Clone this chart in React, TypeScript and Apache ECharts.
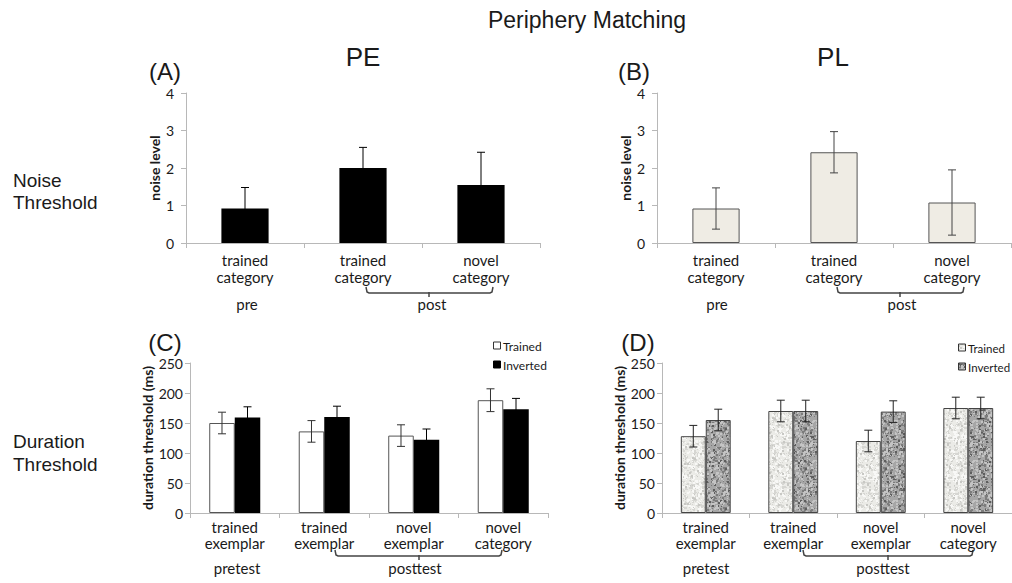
import { useEffect, useRef } from 'react';
import * as echarts from 'echarts';

const noiseCategories = ['trained\ncategory', 'trained\ncategory', 'novel\ncategory'];
const durationCategories = ['trained\nexemplar', 'trained\nexemplar', 'novel\nexemplar', 'novel\ncategory'];
const peValues = [0.92, 2.0, 1.55];
const peErrors = [0.56, 0.55, 0.87];
const plValues = [0.92, 2.42, 1.08];
const plErrors = [0.55, 0.55, 0.87];
const cTrained = [150, 136, 129, 188];
const cTrainedErr = [18, 18, 18, 19];
const cInverted = [159, 160, 122, 173];
const cInvertedErr = [18, 18, 18, 18];
const dTrained = [128, 170, 120, 175];
const dTrainedErr = [18, 18, 18, 18];
const dInverted = [155, 170, 169, 175];
const dInvertedErr = [18, 18, 18, 18];
const legendNames = ['Trained', 'Inverted'];

const LATO = 'Lato, "Open Sans", sans-serif';
const ARIAL = '"Liberation Sans", Arial, sans-serif';
const AXIS_GRAY = '#b8b8b8';
const TEXT = '#1a1a1a';

function speckle(base: string, dots: [string, number][], seed: number) {
  const size = 40;
  const cv = document.createElement('canvas');
  cv.width = size;
  cv.height = size;
  const ctx = cv.getContext('2d')!;
  ctx.fillStyle = base;
  ctx.fillRect(0, 0, size, size);
  let s = seed;
  const rnd = () => {
    s = (s * 16807) % 2147483647;
    return s / 2147483647;
  };
  dots.forEach(([color, n]) => {
    ctx.fillStyle = color;
    for (let k = 0; k < n; k++) {
      const x = Math.floor(rnd() * size);
      const y = Math.floor(rnd() * size);
      const w = 1 + Math.floor(rnd() * 2);
      ctx.fillRect(x, y, w, w);
    }
  });
  return { image: cv, repeat: 'repeat', imageWidth: size, imageHeight: size };
}

function errorBars(values: number[], errors: number[], axis: number, offset: number, color: string) {
  return {
    type: 'custom',
    xAxisIndex: axis,
    yAxisIndex: axis,
    z: 10,
    silent: true,
    data: values.map((v, i) => [i, v, errors[i]]),
    renderItem: (_params: any, api: any) => {
      const i = api.value(0);
      const v = api.value(1);
      const e = api.value(2);
      const band = api.size([1, 0])[0];
      const hi = api.coord([i, v + e]);
      const lo = api.coord([i, v - e]);
      const x = hi[0] + offset * band;
      const c = 4;
      const st = { stroke: color, lineWidth: 1 };
      return {
        type: 'group',
        children: [
          { type: 'line', shape: { x1: x, y1: hi[1], x2: x, y2: lo[1] }, style: st },
          { type: 'line', shape: { x1: x - c, y1: hi[1], x2: x + c, y2: hi[1] }, style: st },
          { type: 'line', shape: { x1: x - c, y1: lo[1], x2: x + c, y2: lo[1] }, style: st },
        ],
      };
    },
  };
}

function catAxis(grid: number, data: string[], lineHeight: number, margin: number) {
  return {
    type: 'category',
    gridIndex: grid,
    data,
    boundaryGap: true,
    axisLine: { show: true, lineStyle: { color: AXIS_GRAY, width: 1 } },
    axisTick: { show: true, alignWithLabel: false, interval: 0, length: 5, lineStyle: { color: AXIS_GRAY } },
    axisLabel: { interval: 0, fontSize: 15, lineHeight, margin, color: TEXT, fontFamily: LATO },
    splitLine: { show: false },
  };
}

function valAxis(grid: number, max: number, interval: number, name: string, nameGap: number, margin: number) {
  return {
    type: 'value',
    gridIndex: grid,
    min: 0,
    max,
    interval,
    name,
    nameLocation: 'middle',
    nameGap,
    nameTextStyle: { fontSize: 14, fontWeight: 'bold', color: TEXT, fontFamily: LATO },
    axisLine: { show: true, lineStyle: { color: AXIS_GRAY, width: 1 } },
    axisTick: { show: true, length: 5, lineStyle: { color: AXIS_GRAY } },
    axisLabel: { fontSize: 14, margin, color: TEXT, fontFamily: LATO },
    splitLine: { show: false },
  };
}

function txt(text: string, x: number, y: number, fontSize: number, fontFamily: string, align = 'center', weight = 'normal') {
  return {
    type: 'text',
    x,
    y,
    silent: true,
    style: { text, fontSize, fontFamily, fill: TEXT, align, verticalAlign: 'middle', fontWeight: weight },
  };
}

function bracket(x1: number, x2: number, xc: number, y: number) {
  const st = { stroke: '#444', lineWidth: 1.5, fill: 'none' };
  return [
    { type: 'polyline', silent: true, shape: { points: [[x1, y - 6], [x1 + 1, y - 1], [x1 + 3, y], [x2 - 3, y], [x2 - 1, y - 1], [x2, y - 6]] }, style: st },
    { type: 'line', silent: true, shape: { x1: xc, y1: y - 1, x2: xc, y2: y + 4 }, style: st },
  ];
}

export default function App() {
  const ref = useRef<HTMLDivElement>(null);

  useEffect(() => {
    document.body.style.margin = '0';
    if (!ref.current) return;
    const chart = echarts.init(ref.current, null, { renderer: 'svg' });

    const lightDots: [string, number][] = [['#d6d6d2', 240], ['#f8f8f6', 200], ['#c8c8c4', 50]];
    const darkDots: [string, number][] = [['#7c7c7c', 220], ['#5e5e5e', 70], ['#c4c4c4', 180]];
    const lightPattern = speckle('#ebebe7', lightDots, 12345);
    const darkPattern = speckle('#a6a6a6', darkDots, 67891);
    const lightPatternL = speckle('#ebebe7', lightDots, 24680);
    const darkPatternL = speckle('#a6a6a6', darkDots, 13579);

    const off = 0.1425;

    const option: any = {
      animation: false,
      backgroundColor: '#ffffff',
      grid: [
        { left: 186, top: 93, width: 354, height: 150 },
        { left: 657, top: 93, width: 354, height: 150 },
        { left: 190, top: 363, width: 358, height: 150 },
        { left: 662, top: 363, width: 352, height: 150 },
      ],
      xAxis: [
        catAxis(0, noiseCategories, 17, 8),
        catAxis(1, noiseCategories, 17, 8),
        catAxis(2, durationCategories, 16, 6),
        catAxis(3, durationCategories, 16, 6),
      ],
      yAxis: [
        valAxis(0, 4, 1, 'noise level', 23, 12),
        valAxis(1, 4, 1, 'noise level', 23, 12),
        valAxis(2, 250, 50, 'duration threshold (ms)', 34, 7),
        valAxis(3, 250, 50, 'duration threshold (ms)', 36, 7),
      ],
      series: [
        { type: 'bar', name: 'PE', xAxisIndex: 0, yAxisIndex: 0, data: peValues, barWidth: '40%', itemStyle: { color: '#000' } },
        errorBars(peValues, peErrors, 0, 0, '#000'),
        { type: 'bar', name: 'PL', xAxisIndex: 1, yAxisIndex: 1, data: plValues, barWidth: '40%', itemStyle: { color: '#efece4', borderColor: '#555', borderWidth: 1 } },
        errorBars(plValues, plErrors, 1, 0, '#444'),
        { type: 'bar', name: legendNames[0], xAxisIndex: 2, yAxisIndex: 2, data: cTrained, barGap: '0%', barCategoryGap: '43%', itemStyle: { color: '#fff', borderColor: '#555', borderWidth: 1 } },
        { type: 'bar', name: legendNames[1], xAxisIndex: 2, yAxisIndex: 2, data: cInverted, barGap: '0%', barCategoryGap: '43%', itemStyle: { color: '#000' } },
        errorBars(cTrained, cTrainedErr, 2, -off, '#333'),
        errorBars(cInverted, cInvertedErr, 2, off, '#000'),
        { type: 'bar', name: legendNames[0] + ' ', xAxisIndex: 3, yAxisIndex: 3, data: dTrained, barGap: '0%', barCategoryGap: '43%', itemStyle: { color: lightPattern, borderColor: '#444', borderWidth: 1 } },
        { type: 'bar', name: legendNames[1] + ' ', xAxisIndex: 3, yAxisIndex: 3, data: dInverted, barGap: '0%', barCategoryGap: '43%', itemStyle: { color: darkPattern, borderColor: '#444', borderWidth: 1 } },
        errorBars(dTrained, dTrainedErr, 3, -off, '#222'),
        errorBars(dInverted, dInvertedErr, 3, off, '#222'),
      ],
      graphic: {
        elements: [
          txt('Periphery Matching', 587, 20, 23, ARIAL),
          txt('PE', 363, 57, 26, ARIAL),
          txt('PL', 833, 57, 26, ARIAL),
          txt('(A)', 165, 71, 24, ARIAL),
          txt('(B)', 634, 71, 24, ARIAL),
          txt('(C)', 165, 342, 24, ARIAL),
          txt('(D)', 638, 342, 24, ARIAL),
          txt('Noise', 13, 180, 19, ARIAL, 'left'),
          txt('Threshold', 13, 202, 19, ARIAL, 'left'),
          txt('Duration', 13, 441, 19, ARIAL, 'left'),
          txt('Threshold', 13, 464, 19, ARIAL, 'left'),
          txt('pre', 247, 304, 15, LATO),
          txt('post', 432, 304, 15, LATO),
          txt('pre', 717, 304, 15, LATO),
          txt('post', 902, 304, 15, LATO),
          txt('pretest', 237, 568, 15, LATO),
          txt('posttest', 415, 568, 15, LATO),
          txt('pretest', 706, 568, 15, LATO),
          txt('posttest', 883, 568, 15, LATO),
          ...bracket(366, 493, 429, 293),
          ...bracket(837, 964, 900, 293),
          ...bracket(335, 502, 419, 556),
          ...bracket(803, 973, 888, 556),
          { type: 'rect', silent: true, shape: { x: 493.5, y: 342, width: 7, height: 7 }, style: { fill: '#fff', stroke: '#333', lineWidth: 1 } },
          txt(legendNames[0], 503, 346, 12, LATO, 'left'),
          { type: 'rect', silent: true, shape: { x: 493.5, y: 361, width: 7, height: 7 }, style: { fill: '#000', stroke: '#000', lineWidth: 1 } },
          txt(legendNames[1], 503, 365, 12, LATO, 'left'),
          { type: 'rect', silent: true, shape: { x: 958.5, y: 344, width: 7, height: 7 }, style: { fill: lightPatternL, stroke: '#333', lineWidth: 1 } },
          txt(legendNames[0], 968, 348, 11.5, LATO, 'left'),
          { type: 'rect', silent: true, shape: { x: 958.5, y: 363, width: 7, height: 7 }, style: { fill: darkPatternL, stroke: '#333', lineWidth: 1 } },
          txt(legendNames[1], 968, 367, 11.5, LATO, 'left'),
        ],
      },
    };

    chart.setOption(option);
    return () => chart.dispose();
  }, []);

  return <div ref={ref} style={{ width: 1012, height: 583 }} />;
}
